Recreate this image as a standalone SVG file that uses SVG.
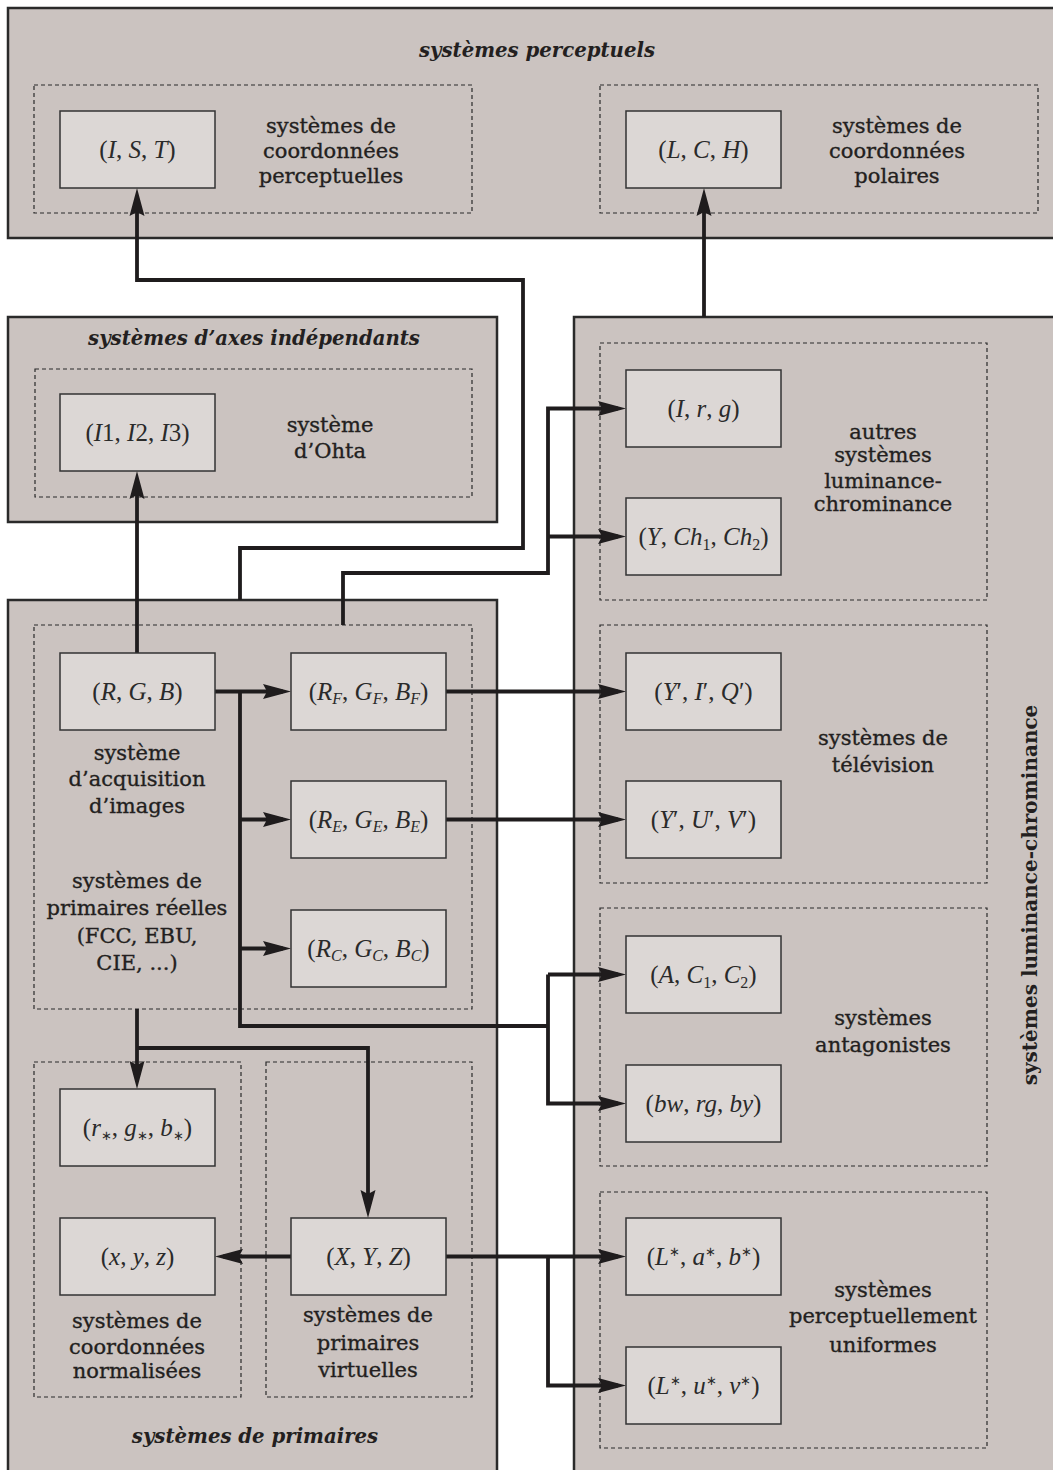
<svg xmlns="http://www.w3.org/2000/svg" width="1053" height="1470" viewBox="0 0 1053 1470">
<defs>
<style>
.panel{fill:#cbc3c0;stroke:#2a2a2a;stroke-width:2.5}
.dash{fill:none;stroke:#2a2a2a;stroke-width:1.2;stroke-dasharray:4 3}
.nd{fill:#dcd7d5;stroke:#333;stroke-width:1.5}
.lbl{font-family:"DejaVu Serif",serif;font-size:21px;fill:#231f20;stroke:#231f20;stroke-width:0.35;text-anchor:middle}
.ttl{font-family:"DejaVu Serif",serif;font-weight:bold;font-style:italic;font-size:19.7px;fill:#231f20;text-anchor:middle}
.vt{font-family:"DejaVu Serif",serif;font-weight:bold;font-size:20px;fill:#231f20;text-anchor:middle}
.m{font-family:"Liberation Serif",serif;font-size:25px;fill:#2a2a2a;text-anchor:middle}
.i{font-style:italic}
.s{font-size:16px}
.st{font-size:13px}
.conn{fill:none;stroke:#1f1c1d;stroke-width:3.8;stroke-linejoin:miter}
</style>
<marker id="ah" markerUnits="userSpaceOnUse" markerWidth="29" markerHeight="16" viewBox="0 0 29 16" refX="20" refY="8" orient="auto"><path d="M0,0.5 L28,8 L0,15.5 L4,8 Z" fill="#1f1c1d"/></marker>
</defs>
<rect width="1053" height="1470" fill="#fff"/>

<g id="panel-perceptuels">
<rect class="panel" x="8" y="8" width="1060" height="230"/>
<text class="ttl" x="537" y="57">systèmes perceptuels</text>
<rect class="dash" x="34" y="85" width="438" height="128"/>
<text class="lbl" x="331" y="133">systèmes de</text>
<text class="lbl" x="331" y="158">coordonnées</text>
<text class="lbl" x="331" y="183">perceptuelles</text>
<rect class="dash" x="600" y="85" width="438" height="128"/>
<text class="lbl" x="897" y="133">systèmes de</text>
<text class="lbl" x="897" y="158">coordonnées</text>
<text class="lbl" x="897" y="183">polaires</text>
</g>

<g id="panel-axes">
<rect class="panel" x="8" y="317" width="489" height="205"/>
<text class="ttl" x="254" y="345">systèmes d’axes indépendants</text>
<rect class="dash" x="35" y="369" width="437" height="128"/>
<text class="lbl" x="330" y="432">système</text>
<text class="lbl" x="330" y="458">d’Ohta</text>
</g>

<g id="panel-primaires">
<rect class="panel" x="8" y="600" width="489" height="900"/>
<rect class="dash" x="34" y="625" width="438" height="384"/>
<text class="lbl" x="137" y="760">système</text>
<text class="lbl" x="137" y="786">d’acquisition</text>
<text class="lbl" x="137" y="813">d’images</text>
<text class="lbl" x="137" y="888">systèmes de</text>
<text class="lbl" x="137" y="915">primaires réelles</text>
<text class="lbl" x="137" y="943">(FCC, EBU,</text>
<text class="lbl" x="137" y="970">CIE, ...)</text>
<rect class="dash" x="34" y="1062" width="207" height="335"/>
<text class="lbl" x="137" y="1328">systèmes de</text>
<text class="lbl" x="137" y="1354">coordonnées</text>
<text class="lbl" x="137" y="1378">normalisées</text>
<rect class="dash" x="266" y="1062" width="206" height="335"/>
<text class="lbl" x="368" y="1322">systèmes de</text>
<text class="lbl" x="368" y="1350">primaires</text>
<text class="lbl" x="368" y="1377">virtuelles</text>
<text class="ttl" x="255" y="1443">systèmes de primaires</text>
</g>

<g id="panel-luminance">
<rect class="panel" x="574" y="317" width="500" height="1180"/>
<text class="vt" transform="translate(1037,895) rotate(-90)">systèmes luminance-chrominance</text>
<rect class="dash" x="600" y="343" width="387" height="257"/>
<text class="lbl" x="883" y="439">autres</text>
<text class="lbl" x="883" y="462">systèmes</text>
<text class="lbl" x="883" y="488">luminance-</text>
<text class="lbl" x="883" y="511">chrominance</text>
<rect class="dash" x="600" y="625" width="387" height="258"/>
<text class="lbl" x="883" y="745">systèmes de</text>
<text class="lbl" x="883" y="772">télévision</text>
<rect class="dash" x="600" y="908" width="387" height="258"/>
<text class="lbl" x="883" y="1025">systèmes</text>
<text class="lbl" x="883" y="1052">antagonistes</text>
<rect class="dash" x="600" y="1192" width="387" height="256"/>
<text class="lbl" x="883" y="1297">systèmes</text>
<text class="lbl" x="883" y="1323">perceptuellement</text>
<text class="lbl" x="883" y="1352">uniformes</text>
</g>

<g id="connectors">
<path class="conn" d="M137,653 V479" marker-end="url(#ah)"/>
<path class="conn" d="M240,600 V548 H523 V280 H137 V196" marker-end="url(#ah)"/>
<path class="conn" d="M704,317 V196" marker-end="url(#ah)"/>
<path class="conn" d="M343,625 V573 H548 V408.5 H618" marker-end="url(#ah)"/>
<path class="conn" d="M548,536.5 H618" marker-end="url(#ah)"/>
<path class="conn" d="M215,691.5 H283" marker-end="url(#ah)"/>
<path class="conn" d="M240,691.5 V1026 H548"/>
<path class="conn" d="M240,819.5 H283" marker-end="url(#ah)"/>
<path class="conn" d="M240,948.5 H283" marker-end="url(#ah)"/>
<path class="conn" d="M548,974.5 V1103.5 H618" marker-end="url(#ah)"/>
<path class="conn" d="M548,974.5 H618" marker-end="url(#ah)"/>
<path class="conn" d="M446,691.5 H618" marker-end="url(#ah)"/>
<path class="conn" d="M446,819.5 H618" marker-end="url(#ah)"/>
<path class="conn" d="M137,1009 V1081" marker-end="url(#ah)"/>
<path class="conn" d="M137,1048 H368 V1210" marker-end="url(#ah)"/>
<path class="conn" d="M291,1256.5 H223" marker-end="url(#ah)"/>
<path class="conn" d="M446,1256.5 H618" marker-end="url(#ah)"/>
<path class="conn" d="M548,1256.5 V1385.5 H618" marker-end="url(#ah)"/>
</g>

<g id="node-IST"><rect class="nd" x="60" y="111" width="155" height="77"/><text class="m" x="137.5" y="158">(<tspan class="i">I</tspan>, <tspan class="i">S</tspan>, <tspan class="i">T</tspan>)</text></g>
<g id="node-LCH"><rect class="nd" x="626" y="111" width="155" height="77"/><text class="m" x="703.5" y="158">(<tspan class="i">L</tspan>, <tspan class="i">C</tspan>, <tspan class="i">H</tspan>)</text></g>
<g id="node-I123"><rect class="nd" x="60" y="394" width="155" height="77"/><text class="m" x="137.5" y="441">(<tspan class="i">I</tspan>1, <tspan class="i">I</tspan>2, <tspan class="i">I</tspan>3)</text></g>
<g id="node-Irg"><rect class="nd" x="626" y="370" width="155" height="77"/><text class="m" x="703.5" y="417">(<tspan class="i">I</tspan>, <tspan class="i">r</tspan>, <tspan class="i">g</tspan>)</text></g>
<g id="node-YCh"><rect class="nd" x="626" y="498" width="155" height="77"/><text class="m" x="703.5" y="545">(<tspan class="i">Y</tspan>, <tspan class="i">Ch</tspan><tspan class="s" dy="5">1</tspan><tspan dy="-5">, </tspan><tspan class="i">Ch</tspan><tspan class="s" dy="5">2</tspan><tspan dy="-5">)</tspan></text></g>
<g id="node-RGB"><rect class="nd" x="60" y="653" width="155" height="77"/><text class="m" x="137.5" y="700">(<tspan class="i">R</tspan>, <tspan class="i">G</tspan>, <tspan class="i">B</tspan>)</text></g>
<g id="node-RF"><rect class="nd" x="291" y="653" width="155" height="77"/><text class="m" x="368.5" y="700">(<tspan class="i">R</tspan><tspan class="s i" dy="4">F</tspan><tspan dy="-4">, </tspan><tspan class="i">G</tspan><tspan class="s i" dy="4">F</tspan><tspan dy="-4">, </tspan><tspan class="i">B</tspan><tspan class="s i" dy="4">F</tspan><tspan dy="-4">)</tspan></text></g>
<g id="node-RE"><rect class="nd" x="291" y="781" width="155" height="77"/><text class="m" x="368.5" y="828">(<tspan class="i">R</tspan><tspan class="s i" dy="4">E</tspan><tspan dy="-4">, </tspan><tspan class="i">G</tspan><tspan class="s i" dy="4">E</tspan><tspan dy="-4">, </tspan><tspan class="i">B</tspan><tspan class="s i" dy="4">E</tspan><tspan dy="-4">)</tspan></text></g>
<g id="node-RC"><rect class="nd" x="291" y="910" width="155" height="77"/><text class="m" x="368.5" y="957">(<tspan class="i">R</tspan><tspan class="s i" dy="4">C</tspan><tspan dy="-4">, </tspan><tspan class="i">G</tspan><tspan class="s i" dy="4">C</tspan><tspan dy="-4">, </tspan><tspan class="i">B</tspan><tspan class="s i" dy="4">C</tspan><tspan dy="-4">)</tspan></text></g>
<g id="node-YIQ"><rect class="nd" x="626" y="653" width="155" height="77"/><text class="m" x="703.5" y="700">(<tspan class="i">Y</tspan>′, <tspan class="i">I</tspan>′, <tspan class="i">Q</tspan>′)</text></g>
<g id="node-YUV"><rect class="nd" x="626" y="781" width="155" height="77"/><text class="m" x="703.5" y="828">(<tspan class="i">Y</tspan>′, <tspan class="i">U</tspan>′, <tspan class="i">V</tspan>′)</text></g>
<g id="node-AC"><rect class="nd" x="626" y="936" width="155" height="77"/><text class="m" x="703.5" y="983">(<tspan class="i">A</tspan>, <tspan class="i">C</tspan><tspan class="s" dy="5">1</tspan><tspan dy="-5">, </tspan><tspan class="i">C</tspan><tspan class="s" dy="5">2</tspan><tspan dy="-5">)</tspan></text></g>
<g id="node-bw"><rect class="nd" x="626" y="1065" width="155" height="77"/><text class="m" x="703.5" y="1112">(<tspan class="i">bw</tspan>, <tspan class="i">rg</tspan>, <tspan class="i">by</tspan>)</text></g>
<g id="node-rgbstar"><rect class="nd" x="60" y="1089" width="155" height="77"/><text class="m" x="137.5" y="1136">(<tspan class="i">r</tspan><tspan class="st" dy="4">∗</tspan><tspan dy="-4">, </tspan><tspan class="i">g</tspan><tspan class="st" dy="4">∗</tspan><tspan dy="-4">, </tspan><tspan class="i">b</tspan><tspan class="st" dy="4">∗</tspan><tspan dy="-4">)</tspan></text></g>
<g id="node-xyz"><rect class="nd" x="60" y="1218" width="155" height="77"/><text class="m" x="137.5" y="1265">(<tspan class="i">x</tspan>, <tspan class="i">y</tspan>, <tspan class="i">z</tspan>)</text></g>
<g id="node-XYZ"><rect class="nd" x="291" y="1218" width="155" height="77"/><text class="m" x="368.5" y="1265">(<tspan class="i">X</tspan>, <tspan class="i">Y</tspan>, <tspan class="i">Z</tspan>)</text></g>
<g id="node-Lab"><rect class="nd" x="626" y="1218" width="155" height="77"/><text class="m" x="703.5" y="1265">(<tspan class="i">L</tspan><tspan class="st" dy="-9">∗</tspan><tspan dy="9">, </tspan><tspan class="i">a</tspan><tspan class="st" dy="-9">∗</tspan><tspan dy="9">, </tspan><tspan class="i">b</tspan><tspan class="st" dy="-9">∗</tspan><tspan dy="9">)</tspan></text></g>
<g id="node-Luv"><rect class="nd" x="626" y="1347" width="155" height="77"/><text class="m" x="703.5" y="1394">(<tspan class="i">L</tspan><tspan class="st" dy="-9">∗</tspan><tspan dy="9">, </tspan><tspan class="i">u</tspan><tspan class="st" dy="-9">∗</tspan><tspan dy="9">, </tspan><tspan class="i">v</tspan><tspan class="st" dy="-9">∗</tspan><tspan dy="9">)</tspan></text></g>
</svg>
